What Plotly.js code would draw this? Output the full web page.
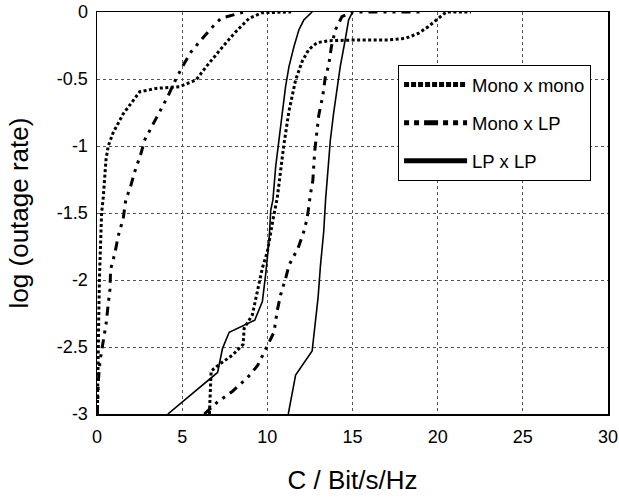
<!DOCTYPE html>
<html>
<head>
<meta charset="utf-8">
<script src="https://cdn.plot.ly/plotly-3.0.1.min.js"></script>
<style>html,body{margin:0;padding:0;background:#fff;}#chart{width:619px;height:500px;}</style>
</head>
<body>
<div id="chart"></div>
<script>
// Mono x mono (dotted)
const monoMonoLowX = [0.02,0.05,0.1,0.14,0.18,0.27,0.37,0.53,0.66,0.95,1.54,2.51,3.48,4.85,5.82,6.4,7.37,8.15,8.93,9.71,11.4];
const monoMonoLowY = [-3,-2.6,-2.3,-2.0,-1.8,-1.5,-1.38,-1.1,-1.0,-0.9,-0.76,-0.595,-0.57,-0.557,-0.507,-0.41,-0.26,-0.147,-0.047,-0.005,0];
const monoMonoHighX = [6.6,6.64,6.7,7.18,7.96,8.58,8.64,9.12,9.42,9.71,10.0,10.2,10.39,10.58,10.97,11.27,11.66,12.04,12.43,12.92,13.6,15.16,17.1,18.1,18.86,19.44,19.92,20.5,21.95];
const monoMonoHighY = [-3,-2.81,-2.68,-2.63,-2.56,-2.48,-2.36,-2.26,-2.08,-1.91,-1.79,-1.64,-1.51,-1.39,-0.99,-0.74,-0.507,-0.37,-0.28,-0.229,-0.214,-0.209,-0.209,-0.197,-0.16,-0.11,-0.06,0,0];
// Mono x LP (dash-dot)
const monoLpLowX = [0.02,0.08,0.18,0.33,0.53,0.66,0.76,0.80,1.05,1.25,1.54,1.69,1.93,2.22,2.57,2.80,3.29,3.78,4.16,4.65,5.14,5.53,6.11,6.70,7.28,8.25,8.64];
const monoLpLowY = [-3,-2.75,-2.6,-2.48,-2.33,-2.18,-2.07,-1.92,-1.8,-1.67,-1.54,-1.4,-1.32,-1.19,-1.06,-0.955,-0.843,-0.72,-0.63,-0.495,-0.38,-0.296,-0.209,-0.122,-0.047,-0.01,0];
const monoLpHighX = [6.3,7.08,7.96,8.83,9.42,9.9,10.39,10.58,10.78,11.07,11.27,11.81,12.14,12.34,12.47,12.53,12.67,12.78,13.02,13.25,13.4,13.6,13.76,13.99,14.38,14.95,18.95];
const monoLpHighY = [-3,-2.91,-2.83,-2.73,-2.64,-2.51,-2.39,-2.23,-2.11,-1.99,-1.89,-1.76,-1.64,-1.54,-1.41,-1.36,-1.26,-1.04,-0.77,-0.63,-0.49,-0.40,-0.26,-0.134,-0.035,0,0];
// LP x LP (solid)
const lpLpLowX = [4.16,7.08,7.37,7.76,9.26,9.71,9.9,10.1,10.2,10.33,10.49,10.68,10.88,11.07,11.27,11.56,11.85,12.14,12.63];
const lpLpLowY = [-3,-2.69,-2.51,-2.39,-2.30,-2.16,-1.96,-1.71,-1.48,-1.4,-1.154,-0.955,-0.756,-0.557,-0.408,-0.259,-0.134,-0.06,0];
const lpLpHighX = [11.23,11.66,12.63,12.83,12.98,13.12,13.31,13.42,13.56,13.7,13.89,14.09,14.28,14.57,14.77,15.0];
const lpLpHighY = [-3,-2.71,-2.53,-2.28,-2.13,-1.89,-1.64,-1.40,-1.154,-0.955,-0.756,-0.557,-0.408,-0.209,-0.06,0];

const seriesNames = ['Mono x mono','Mono x LP','LP x LP'];
const xTicks = [0,5,10,15,20,25,30];
const yTicks = [0,-0.5,-1,-1.5,-2,-2.5,-3];
const yTickText = ['0','-0.5','-1','-1.5','-2','-2.5','-3'];

const dotDash = '3px,2.5px';
const dashDot = '9px,6px,3px,6px,3px,6px';

function curve(x, y, dash, w) {
  return {x: x, y: y, type: 'scatter', mode: 'lines', showlegend: false, hoverinfo: 'skip',
          line: {color: '#000', width: w, dash: dash}};
}
function legendOnly(name, dash, grp) {
  return {x: [null], y: [null], type: 'scatter', mode: 'lines', name: name, legendgroup: grp,
          line: {color: '#000', width: 5, dash: dash}};
}

const traces = [
  curve(monoMonoLowX, monoMonoLowY, dotDash, 3),
  curve(monoMonoHighX, monoMonoHighY, dotDash, 3),
  curve(monoLpLowX, monoLpLowY, dashDot, 3),
  curve(monoLpHighX, monoLpHighY, dashDot, 3),
  curve(lpLpLowX, lpLpLowY, 'solid', 1.6),
  curve(lpLpHighX, lpLpHighY, 'solid', 1.6),
  legendOnly(seriesNames[0], '5px,2px', 'a'),
  legendOnly(seriesNames[1], '5px,5px,5px,5px,14px,5px', 'b'),
  legendOnly(seriesNames[2], 'solid', 'c')
];

const font = 'Arial, "Liberation Sans", sans-serif';
const layout = {
  width: 619, height: 500,
  margin: {l: 97, r: 11, t: 12, b: 86},
  paper_bgcolor: '#fff', plot_bgcolor: '#fff',
  font: {family: font, color: '#000'},
  showlegend: true,
  legend: {x: 0.5892, y: 0.868, xanchor: 'left', yanchor: 'top',
           bordercolor: '#000', borderwidth: 1, bgcolor: '#fff',
           font: {size: 18.5, family: font, color: '#000'},
           tracegroupgap: 11, itemwidth: 63},
  xaxis: {range: [0, 30], tickvals: xTicks, ticks: '', showgrid: true, gridcolor: '#555',
          gridwidth: 1, griddash: '3px,3px', zeroline: false, showline: true, mirror: true,
          linecolor: '#000', linewidth: 1.5, tickfont: {size: 18}, ticklabelstandoff: 6,
          ticklabeloverflow: 'allow',
          title: {text: 'C / Bit/s/Hz', font: {size: 26}, standoff: 24}},
  yaxis: {range: [-3, 0], tickvals: yTicks, ticktext: yTickText, ticks: '', showgrid: true,
          gridcolor: '#555', gridwidth: 1, griddash: '3px,3px', zeroline: false, showline: true,
          mirror: true, linecolor: '#000', linewidth: 1.5, tickfont: {size: 18}, ticklabelstandoff: 4,
          ticklabeloverflow: 'allow',
          title: {text: 'log (outage rate)', font: {size: 26}, standoff: 21}}
};
Plotly.newPlot('chart', traces, layout, {displayModeBar: false, staticPlot: true});
</script>
</body>
</html>
